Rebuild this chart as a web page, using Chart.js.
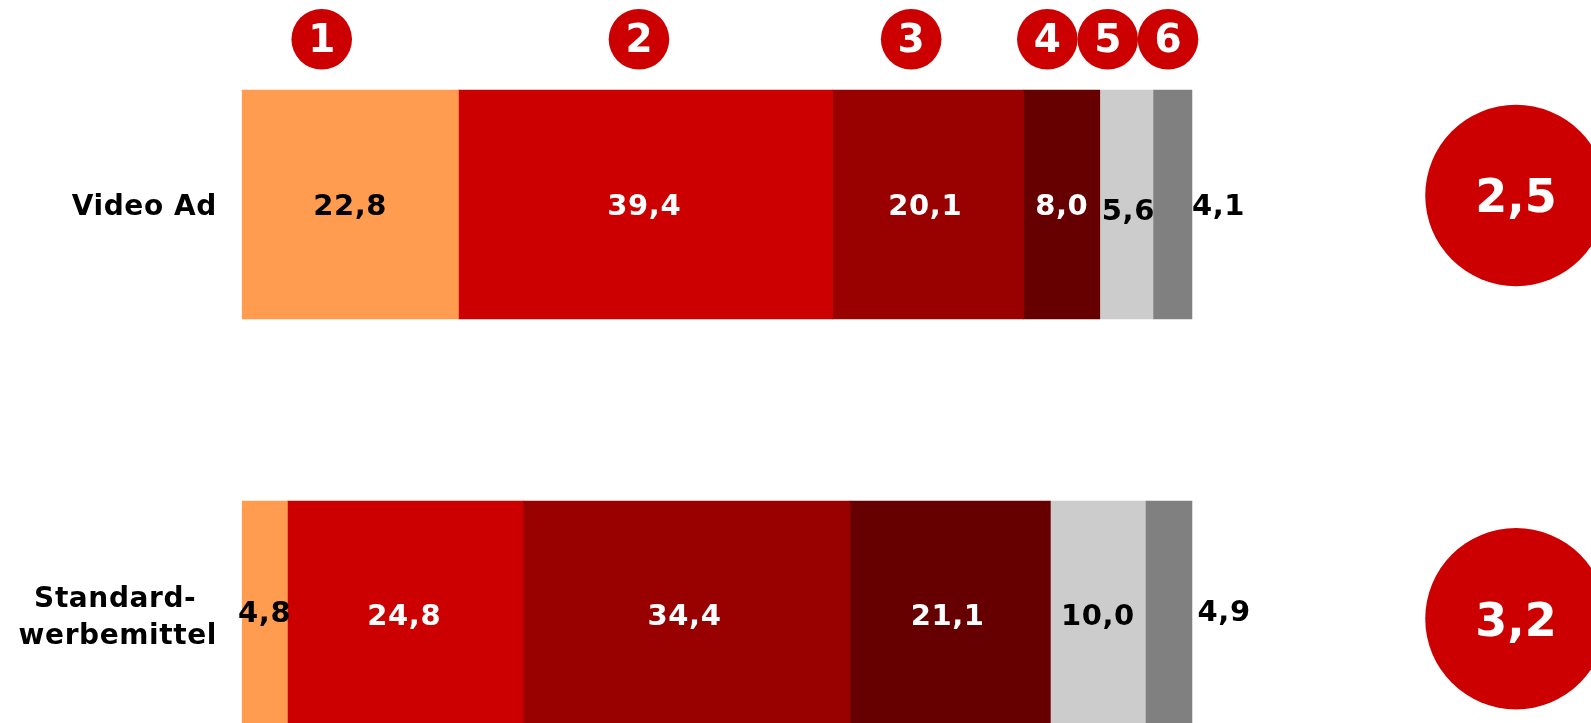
<!DOCTYPE html>
<html>
<head>
<meta charset="utf-8">
<style>
html,body{margin:0;padding:0;background:#fff;overflow:hidden;width:1591px;height:723px}
#wrap{position:relative;width:1591px;height:723px;overflow:hidden}
canvas{position:absolute;left:0;top:-1px}
</style>
<script src="https://cdn.jsdelivr.net/npm/chart.js@4/dist/chart.umd.js"></script>
</head>
<body>
<div id="wrap"><canvas id="c" width="1591" height="822"></canvas></div>
<script>
const categories = [["Video Ad"], ["Standard-  ", "werbemittel"]];
const grade1 = [22.8, 4.8];
const grade2 = [39.4, 24.8];
const grade3 = [20.1, 34.4];
const grade4 = [8.0, 21.1];
const grade5 = [5.6, 10.0];
const grade6 = [4.1, 4.9];
const seriesValues = [grade1, grade2, grade3, grade4, grade5, grade6];
const seriesColors = ["#FF9C50", "#CC0000", "#990000", "#660000", "#CCCCCC", "#808080"];
const labelColors = ["#000", "#fff", "#fff", "#fff", "#000", "#000"];
const gradeNames = ["1", "2", "3", "4", "5", "6"];
const gradeX = [8.41, 41.8, 70.45, 84.78, 91.14, 97.48];
const gradeY = -0.402;
const meanValues = [2.5, 3.2];
const meanX = 134.1;
const meanRowShift = [-0.022, 0.0078];

// hand placement of the value labels, in px
const labelDx = [[0,-1.4,-3,0,2,46],[0,-1,-2,-2.5,0,55.5]];
const labelDy = [[3,3,3,3,8,2.5],[-1,1.5,1.5,1.5,1.5,-2.5]];

const FONT = '"DejaVu Sans"';
const fmt = v => v.toFixed(1).replace('.', ',');

const textPlugin = {
  id: 'textPlugin',
  afterLayout(chart) {
    // the axis labels sit slightly below the centre of their bars
    const s = chart.scales.y;
    const orig = s._computeLabelItems;
    s._computeLabelItems = function (area) {
      const items = orig.call(s, area);
      items.forEach(it => { it.options.translation[1] += 3; });
      return items;
    };
    s._labelItems = null;
  },
  beforeDraw(chart) {
    chart.ctx.letterSpacing = '0.6px';
  },
  afterDraw(chart) {
    const ctx = chart.ctx;
    ctx.save();
    ctx.textAlign = 'center';
    ctx.textBaseline = 'middle';
    ctx.font = 'bold 29px ' + FONT;
    seriesValues.forEach((vals, s) => {
      const meta = chart.getDatasetMeta(s);
      ctx.fillStyle = labelColors[s];
      vals.forEach((v, r) => {
        const p = meta.data[r].getCenterPoint();
        ctx.fillText(fmt(v), p.x + labelDx[r][s], p.y + labelDy[r][s]);
      });
    });
    ctx.fillStyle = '#fff';
    const gm = chart.getDatasetMeta(6);
    ctx.font = 'bold 39px ' + FONT;
    ctx.letterSpacing = '0px';
    gm.data.forEach((el, i) => ctx.fillText(gradeNames[i], el.x, el.y + 3));
    const mm = chart.getDatasetMeta(7);
    ctx.font = 'bold 46px ' + FONT;
    mm.data.forEach((el, i) => ctx.fillText(fmt(meanValues[i]), el.x, el.y + (i ? 5 : 4.5)));
    ctx.restore();
  }
};

const datasets = seriesValues.map((vals, i) => ({
  type: 'bar',
  indexAxis: 'y',
  label: gradeNames[i],
  data: vals,
  backgroundColor: seriesColors[i],
  borderWidth: 0,
  barThickness: 229,
  xAxisID: 'x',
  yAxisID: 'y',
  stack: 'a',
  order: 2
}));
datasets.push({
  type: 'bubble',
  indexAxis: 'x',
  data: gradeX.map(x => ({x, y: gradeY, r: 30.3})),
  backgroundColor: '#CC0000',
  borderWidth: 0,
  hoverBorderWidth: 0,
  xAxisID: 'x',
  yAxisID: 'y2',
  clip: false,
  order: 1
});
datasets.push({
  type: 'bubble',
  indexAxis: 'x',
  data: meanValues.map((v, i) => ({x: meanX, y: i + meanRowShift[i], r: 90.7})),
  backgroundColor: '#CC0000',
  borderWidth: 0,
  hoverBorderWidth: 0,
  xAxisID: 'x',
  yAxisID: 'y2',
  clip: false,
  order: 1
});

new Chart(document.getElementById('c'), {
  data: { labels: categories, datasets },
  plugins: [textPlugin],
  options: {
    responsive: false,
    animation: false,
    events: [],
    layout: { padding: 0, autoPadding: false },
    plugins: { legend: { display: false }, tooltip: { enabled: false } },
    scales: {
      x: { type: 'linear', stacked: true, min: 0, max: 142, display: false },
      y: {
        type: 'category',
        stacked: true,
        position: 'left',
        grid: { display: false, drawTicks: false },
        border: { display: false },
        afterFit(s) { s.width = 241.8; s.paddingTop = 0; s.paddingBottom = 0; s.paddingLeft = 0; s.paddingRight = 0; },
        ticks: {
          padding: 24.8,
          color: '#000',
          autoSkip: false,
          font: { family: FONT, weight: 'bold', size: 28, lineHeight: 1.33 }
        }
      },
      y2: { type: 'linear', min: -0.5, max: 1.5, reverse: true, display: false }
    }
  }
});
</script>
</body>
</html>
